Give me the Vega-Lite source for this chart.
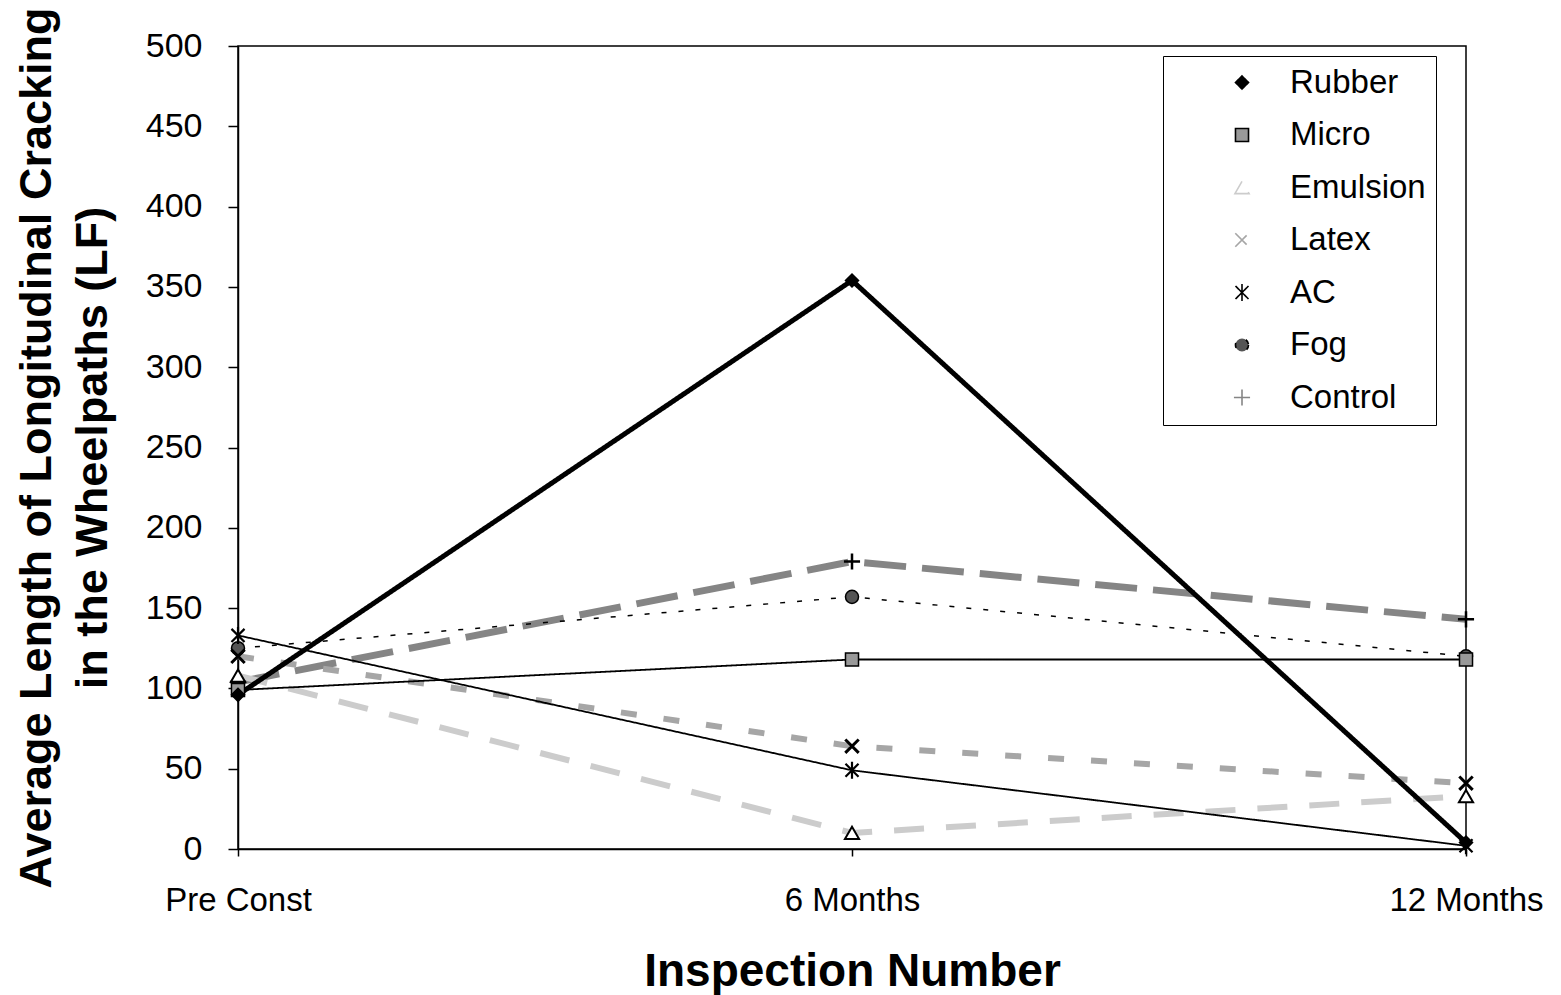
{
  "$schema": "https://vega.github.io/schema/vega-lite/v6.json",
  "width": 1228,
  "height": 803,
  "autosize": {"type": "none"},
  "padding": {"left": 238, "top": 46, "right": 95, "bottom": 146},
  "background": "white",
  "config": {
    "view": {"stroke": "black", "strokeWidth": 1.5},
    "font": "Liberation Sans",
    "axis": {"grid": false, "domainColor": "black", "domainWidth": 1.5, "tickColor": "black", "tickWidth": 1.5, "labelColor": "black", "titleColor": "black", "labelFont": "Liberation Sans", "titleFont": "Liberation Sans"}
  },
  "data": {
    "values": [
      {"inspection": "Pre Const", "series": "Control", "value": 104},
      {"inspection": "6 Months", "series": "Control", "value": 179},
      {"inspection": "12 Months", "series": "Control", "value": 143},
      {"inspection": "Pre Const", "series": "Fog", "value": 125},
      {"inspection": "6 Months", "series": "Fog", "value": 157},
      {"inspection": "12 Months", "series": "Fog", "value": 120},
      {"inspection": "Pre Const", "series": "Emulsion", "value": 108},
      {"inspection": "6 Months", "series": "Emulsion", "value": 10},
      {"inspection": "12 Months", "series": "Emulsion", "value": 33},
      {"inspection": "Pre Const", "series": "Latex", "value": 120},
      {"inspection": "6 Months", "series": "Latex", "value": 64},
      {"inspection": "12 Months", "series": "Latex", "value": 41},
      {"inspection": "Pre Const", "series": "Micro", "value": 99},
      {"inspection": "6 Months", "series": "Micro", "value": 118},
      {"inspection": "12 Months", "series": "Micro", "value": 118},
      {"inspection": "Pre Const", "series": "AC", "value": 133},
      {"inspection": "6 Months", "series": "AC", "value": 49},
      {"inspection": "12 Months", "series": "AC", "value": 2},
      {"inspection": "Pre Const", "series": "Rubber", "value": 96},
      {"inspection": "6 Months", "series": "Rubber", "value": 354},
      {"inspection": "12 Months", "series": "Rubber", "value": 4}
    ]
  },
  "encoding": {
    "x": {
      "field": "inspection", "type": "ordinal",
      "sort": ["Pre Const", "6 Months", "12 Months"],
      "scale": {"type": "point", "padding": 0},
      "axis": {"title": "Inspection Number", "titleFontSize": 46, "titleFontWeight": "bold", "titlePadding": 32, "labelFontSize": 33, "labelAngle": 0, "labelFlush": false, "labelOverlap": false, "tickSize": 7, "labelPadding": 28}
    },
    "y": {
      "field": "value", "type": "quantitative",
      "scale": {"domain": [0, 500], "nice": false},
      "axis": {"title": ["Average Length of Longitudinal Cracking", "in the Wheelpaths (LF)"], "titleFontSize": 45, "titleFontWeight": "bold", "titleLineHeight": 56, "titlePadding": 30, "values": [0, 50, 100, 150, 200, 250, 300, 350, 400, 450, 500], "labelFontSize": 34, "tickSize": 10, "labelPadding": 26}
    }
  },
  "layer": [
    {
      "mark": {"type": "line", "strokeCap": "butt", "strokeJoin": "miter"},
      "encoding": {
        "color": {
          "field": "series", "type": "nominal",
          "scale": {"domain": ["Rubber", "Micro", "Emulsion", "Latex", "AC", "Fog", "Control"], "range": ["black", "black", "#cccccc", "#a6a6a6", "black", "black", "#858585"]},
          "legend": {
            "orient": "none", "legendX": 925, "legendY": 10, "title": null,
            "strokeColor": "black", "padding": 10,
            "labelFontSize": 33, "labelFont": "Liberation Sans", "labelColor": "black",
            "symbolSize": 400, "symbolStrokeWidth": 1.6, "symbolOffset": 52.5, "labelOffset": 31.5, "rowPadding": 18.5,
            "encode": {
              "symbols": {"update": {
                "shape": {"value": {"expr": "datum.value==='Rubber'?'M-4,-0.22L4,-0.22L4,0.22L-4,0.22ZM0,-0.8L0.6,0L0,0.8L-0.6,0Z':datum.value==='Micro'?'M-4,0L-0.6,0M0.6,0L4,0M-0.6,-0.6L0.6,-0.6L0.6,0.6L-0.6,0.6Z':datum.value==='Emulsion'?'M-3.7,-0.25L-0.8,-0.25L-0.8,0.25L-3.7,0.25ZM0.8,-0.25L1.3,-0.25L1.3,0.25L0.8,0.25ZM-0.7,0.5L0,-0.7L0.7,0.5Z':datum.value==='Latex'?'M-3.6,-0.25L-2.4,-0.25L-2.4,0.25L-3.6,0.25ZM0.6,-0.25L1.8,-0.25L1.8,0.25L0.6,0.25ZM-0.55,-0.55L0.55,0.55M-0.55,0.55L0.55,-0.55':datum.value==='AC'?'M-4,0L4,0M-0.55,-0.55L0.55,0.55M-0.55,0.55L0.55,-0.55M0,-0.7L0,0.7':datum.value==='Fog'?'M-3.4,0L-3,0M-2.2,0L-1.8,0M-1,0L-0.7,0M1,0L1.3,0M1.8,0L2.2,0M3,0L3.4,0M-0.5,0A0.5,0.5 0 1 1 0.5,0A0.5,0.5 0 1 1 -0.5,0Z':'M-4,-0.3L-0.3,-0.3L-0.3,0.3L-4,0.3ZM0.3,-0.3L1.3,-0.3L1.3,0.3L0.3,0.3ZM-0.7,0L0.7,0M0,-0.7L0,0.7'"}},
                "stroke": {"value": {"expr": "datum.value==='Emulsion'?'#aaaaaa':datum.value==='Latex'?'#8c8c8c':datum.value==='Control'?'#666666':'black'"}},
                "fill": {"value": {"expr": "datum.value==='Rubber'?'black':datum.value==='Micro'?'#999999':datum.value==='Emulsion'?'#cccccc':datum.value==='Latex'?'#a6a6a6':datum.value==='Control'?'#858585':datum.value==='Fog'?'#555555':'transparent'"}},
                "size": {"value": 400},
                "opacity": {"value": 1}
              }}
            }
          }
        },
        "strokeDash": {
          "field": "series", "type": "nominal",
          "scale": {"domain": ["Rubber", "Micro", "Emulsion", "Latex", "AC", "Fog", "Control"], "range": [[1, 0], [1, 0], [30, 22], [16, 27], [1, 0], [5, 12], [42, 16]]},
          "legend": null
        },
        "strokeWidth": {
          "field": "series", "type": "nominal",
          "scale": {"type": "ordinal", "domain": ["Rubber", "Micro", "Emulsion", "Latex", "AC", "Fog", "Control"], "range": [5, 1.8, 6, 6, 1.8, 1.5, 7]},
          "legend": null
        }
      }
    },
    {
      "mark": {"type": "point", "filled": false, "opacity": 1, "stroke": "black"},
      "encoding": {
        "shape": {
          "field": "series", "type": "nominal",
          "scale": {"domain": ["Rubber", "Micro", "Emulsion", "Latex", "AC", "Fog", "Control"], "range": ["diamond", "square", "triangle-up", "M-1,-1L1,1M-1,1L1,-1", "M-1,-1L1,1M-1,1L1,-1M0,-1.3L0,1.3", "circle", "M-1,0L1,0M0,-1L0,1"]},
          "legend": null
        },
        "fill": {
          "field": "series", "type": "nominal",
          "scale": {"domain": ["Rubber", "Micro", "Emulsion", "Latex", "AC", "Fog", "Control"], "range": ["black", "#999999", "white", "transparent", "transparent", "#555555", "transparent"]},
          "legend": null
        },
        "size": {
          "field": "series", "type": "nominal",
          "scale": {"type": "ordinal", "domain": ["Rubber", "Micro", "Emulsion", "Latex", "AC", "Fog", "Control"], "range": [170, 170, 200, 180, 170, 170, 260]},
          "legend": null
        },
        "strokeWidth": {
          "field": "series", "type": "nominal",
          "scale": {"type": "ordinal", "domain": ["Rubber", "Micro", "Emulsion", "Latex", "AC", "Fog", "Control"], "range": [1.5, 1.5, 2, 3, 2.2, 1.5, 2.5]},
          "legend": null
        }
      }
    }
  ],
  "resolve": {"scale": {"strokeWidth": "independent"}}
}
